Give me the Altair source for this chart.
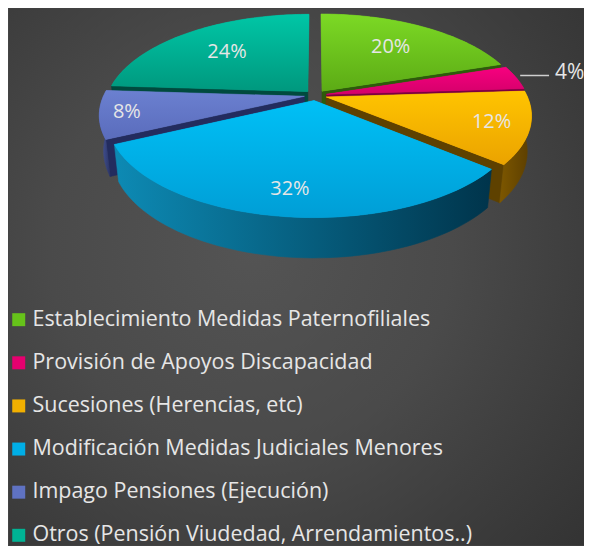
import numpy as np
import pandas as pd
import altair as alt

# ---------------- data ----------------
categories = [
    "Establecimiento Medidas Paternofiliales",
    "Provisión de Apoyos Discapacidad",
    "Sucesiones (Herencias, etc)",
    "Modificación Medidas Judiciales Menores",
    "Impago Pensiones (Ejecución)",
    "Otros (Pensión Viudedad, Arrendamientos..)",
]
shares = [20, 4, 12, 32, 8, 24]
labels = ["20%", "4%", "12%", "32%", "8%", "24%"]

# ---------------- styles ----------------
top_light = ["#7cd925", "#f7007f", "#ffc400", "#00c0f6", "#6b80d0", "#00c6a6"]
top_dark = ["#5cab15", "#d4006a", "#eba300", "#009ed6", "#5a6cbc", "#00987e"]
legend_colors = ["#66c21a", "#e6006f", "#f2b000", "#00aee6", "#5f72c2", "#00b394"]
side_light = ["#3f7a10", "#8f004a", "#7d5700", "#0d8ab4", "#4a5aa0", "#006b59"]
side_dark = ["#2c560a", "#6a0036", "#5a3d00", "#00344b", "#2a3466", "#00483c"]
face_col = ["#2e5a0b", "#7a0040", "#5e4100", "#003a52", "#232c5e", "#004a3e"]
label_r = [0.65, 1.0, 0.82, 0.80, 0.87, 0.65]

W, H = 576, 538
K = 201.0            # projection scale (pixels per pie radius)
CX, CY = 307.0, 87.0  # pie centre in chart pixels
PHI = np.radians(27.6)
DIST = 4.74
THICK = 0.2
EXPLODE = 0.056
FONT = "Open Sans"
TXT = "#e6e6e6"
SMALL_LABEL_X = 547   # left edge of the outside label, chart pixels

PROJ = dict(type="identity", scale=K, translate=[CX, CY])


def P(X, Y, D):
    c, s = np.cos(PHI), np.sin(PHI)
    yp = Y * c + D * s
    zp = D * c - Y * s
    f = DIST / (DIST + zp)
    return [float(X * f), float(-yp * f)]


total = float(sum(shares))
starts = np.cumsum([0] + shares[:-1]) / total * 360.0
ends = np.cumsum(shares) / total * 360.0


def slice_geom(i):
    t1, t2 = starts[i], ends[i]
    tb = np.radians((t1 + t2) / 2)
    ex, ed = EXPLODE * np.sin(tb), EXPLODE * np.cos(tb)
    return t1, t2, ex, ed


def rim(t, ex, ed, Y):
    r = np.radians(t)
    return P(ex + np.sin(r), Y, ed + np.cos(r))


def arc(ta, tb_, ex, ed, Y, n=60):
    return [rim(t, ex, ed, Y) for t in np.linspace(ta, tb_, n)]


def feat(coords, props=None):
    ring = list(coords) + [coords[0]]
    return {"type": "Feature", "properties": props or {},
            "geometry": {"type": "Polygon", "coordinates": [ring]}}


def lin_grad(c1, c2, horizontal):
    return alt.LinearGradient(
        gradient="linear",
        stops=[alt.GradientStop(color=c1, offset=0), alt.GradientStop(color=c2, offset=1)],
        x1=0, y1=0, x2=1 if horizontal else 0, y2=0 if horizontal else 1,
    )


def shape_layer(feature, fill):
    return (alt.Chart(alt.Data(values=[feature]))
            .mark_geoshape(fill=fill, stroke=fill, strokeWidth=0.6)
            .project(**PROJ))


# draw order: back to front by bisector depth
order = sorted(range(len(shares)),
               key=lambda i: -np.cos(np.radians((starts[i] + ends[i]) / 2)))

layers = []

# background
bg = alt.Chart(pd.DataFrame({"a": [0]})).mark_rect(
    fill=alt.RadialGradient(
        gradient="radial",
        stops=[alt.GradientStop(color="#545454", offset=0),
               alt.GradientStop(color="#4a4a4a", offset=0.45),
               alt.GradientStop(color="#3b3b3b", offset=0.8),
               alt.GradientStop(color="#333333", offset=1)],
        x1=0.42, y1=0.45, r1=0, x2=0.42, y2=0.45, r2=0.78)
).encode(x=alt.value(0), x2=alt.value(W), y=alt.value(0), y2=alt.value(H))
layers.append(bg)

# sides
for i in order:
    t1, t2, ex, ed = slice_geom(i)
    c_top = P(ex, 0, ed)
    c_bot = P(ex, -THICK, ed)
    for t, nrm in ((t1, t1 - 90), (t2, t2 + 90)):
        if np.cos(np.radians(nrm)) < -1e-6:
            quad = [c_top, rim(t, ex, ed, 0), rim(t, ex, ed, -THICK), c_bot]
            layers.append(shape_layer(feat(quad), face_col[i]))
    a, b = max(t1, 90.0), min(t2, 270.0)
    if b > a:
        poly = arc(a, b, ex, ed, 0) + arc(b, a, ex, ed, -THICK)
        layers.append(shape_layer(feat(poly), lin_grad(side_light[i], side_dark[i], True)))

# flat tops carrying the legend
top_feats = []
for i in order:
    t1, t2, ex, ed = slice_geom(i)
    poly = [P(ex, 0, ed)] + arc(t1, t2, ex, ed, 0)
    top_feats.append(feat(poly, {"cat": categories[i]}))

legend_layer = (alt.Chart(alt.Data(values=top_feats))
                .mark_geoshape(strokeWidth=0)
                .encode(color=alt.Color(
                    "properties.cat:N",
                    scale=alt.Scale(domain=categories, range=legend_colors),
                    legend=alt.Legend(
                        orient="none", legendX=-1, legendY=301, title=None,
                        symbolType="square", symbolSize=169, symbolStrokeWidth=0,
                        symbolOpacity=1,
                        labelFont=FONT, labelFontSize=21.5, labelColor=TXT,
                        labelOffset=3, rowPadding=20.2, padding=0, labelLimit=0,
                    )))
                .project(**PROJ))
layers.append(legend_layer)

# gradient tops
for i in order:
    t1, t2, ex, ed = slice_geom(i)
    poly = [P(ex, 0, ed)] + arc(t1, t2, ex, ed, 0)
    layers.append(shape_layer(feat(poly), lin_grad(top_light[i], top_dark[i], False)))

# labels
lab_rows = []
lead = None
small_rows = []
for i in range(len(shares)):
    t1, t2, ex, ed = slice_geom(i)
    tb = np.radians((t1 + t2) / 2)
    if shares[i] < 5:
        u, v = P(ex + np.sin(tb), 0, ed + np.cos(tb))
        x0 = u + 4 / K
        x1 = (SMALL_LABEL_X - 6 - CX) / K
        vv = v - 2 / K
        lead = {"type": "Feature", "properties": {},
                "geometry": {"type": "LineString", "coordinates": [[x0, vv], [x1, vv]]}}
        small_rows.append({"lon": (SMALL_LABEL_X - CX) / K, "lat": vv - 3 / K, "label": labels[i]})
    else:
        r = label_r[i]
        u, v = P(ex + r * np.sin(tb), 0, ed + r * np.cos(tb))
        lab_rows.append({"lon": u, "lat": v, "label": labels[i]})

if lead is not None:
    layers.append(alt.Chart(alt.Data(values=[lead]))
                  .mark_geoshape(filled=False, stroke="#cfcfcf", strokeWidth=1.5)
                  .project(**PROJ))

texts = (alt.Chart(pd.DataFrame(lab_rows))
         .mark_text(font=FONT, fontSize=20, color=TXT, align="center", baseline="middle")
         .encode(longitude="lon:Q", latitude="lat:Q", text="label:N")
         .project(**PROJ))
layers.append(texts)

small_texts = (alt.Chart(pd.DataFrame(small_rows))
               .mark_text(font=FONT, fontSize=21, color=TXT, align="left", baseline="middle")
               .encode(longitude="lon:Q", latitude="lat:Q", text="label:N")
               .project(**PROJ))
layers.append(small_texts)

chart = (alt.layer(*layers)
         .properties(width=W, height=H, background="#444444", padding=0)
         .configure_view(stroke=None))

chart.save("out.html", embed_options={"renderer": "svg", "actions": False})
